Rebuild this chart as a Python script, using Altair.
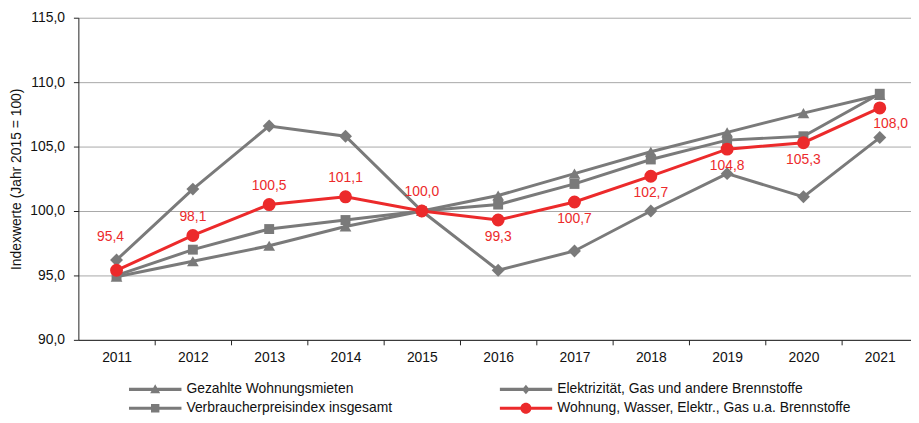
import altair as alt
import pandas as pd

# ---- data ----
years = [2011, 2012, 2013, 2014, 2015, 2016, 2017, 2018, 2019, 2020, 2021]
mieten = [94.9, 96.1, 97.3, 98.8, 100.0, 101.2, 102.9, 104.6, 106.1, 107.6, 109.0]
energie = [96.2, 101.7, 106.6, 105.8, 100.0, 95.4, 96.9, 100.0, 102.9, 101.1, 105.7]
vpi = [95.0, 97.0, 98.6, 99.3, 100.0, 100.5, 102.1, 104.0, 105.5, 105.8, 109.1]
wohnung = [95.4, 98.1, 100.5, 101.1, 100.0, 99.3, 100.7, 102.7, 104.8, 105.3, 108.0]

name_mieten = "Gezahlte Wohnungsmieten"
name_energie = "Elektrizität, Gas und andere Brennstoffe"
name_vpi = "Verbraucherpreisindex insgesamt"
name_wohnung = "Wohnung, Wasser, Elektr., Gas u.a. Brennstoffe"

y_ticks = [90, 95, 100, 105, 110, 115]
x_boundaries = [2011.5, 2012.5, 2013.5, 2014.5, 2015.5, 2016.5, 2017.5, 2018.5, 2019.5, 2020.5]

GRAY = "#7a7a7a"
RED = "#ec2a2b"
FONT = "Liberation Sans"

rows = []
for name, vals in [(name_energie, energie), (name_mieten, mieten), (name_vpi, vpi), (name_wohnung, wohnung)]:
    for yr, v in zip(years, vals):
        rows.append({"Jahr": yr, "Wert": v, "Serie": name})
df = pd.DataFrame(rows)

x_scale = alt.Scale(domain=[2010.5, 2010.5 + 840 / 77], nice=False, zero=False)
y_scale = alt.Scale(domain=[90, 115], nice=False, zero=False)

y_axis = alt.Axis(
    values=y_ticks, grid=True, gridColor="#a8a8a8", gridWidth=1,
    domainColor="#222", tickColor="#222", tickSize=5, labelPadding=9,
    labelExpr="replace(format(datum.value, '.1f'), '.', ',')",
    labelFontSize=14, labelFont=FONT, labelColor="#111",
    title="Indexwerte (Jahr 2015 = 100)", titleFont=FONT, titleFontSize=14,
    titleFontWeight="normal", titleColor="#111", titlePadding=6,
)
x_axis_labels = alt.Axis(
    values=years, format="d", ticks=False, domain=False, grid=False,
    labelFontSize=14, labelFont=FONT, labelColor="#111", labelPadding=11,
    title=None, orient="bottom",
)
x_axis_ticks = alt.Axis(
    values=x_boundaries, labels=False, ticks=True, tickSize=5, tickColor="#222",
    domain=True, domainColor="#222", grid=False, title=None, orient="bottom",
)

base = alt.Chart(df)

layers = []
styles = [
    (name_energie, GRAY, "diamond", 170),
    (name_mieten, GRAY, "triangle-up", 140),
    (name_vpi, GRAY, "square", 100),
    (name_wohnung, RED, "circle", 170),
]
first = True
for name, col, shp, sz in styles:
    sub = base.transform_filter(alt.datum.Serie == name)
    line = sub.mark_line(color=col, strokeWidth=3).encode(
        x=alt.X("Jahr:Q", scale=x_scale, axis=x_axis_labels if first else None),
        y=alt.Y("Wert:Q", scale=y_scale, axis=y_axis),
    )
    pts = sub.mark_point(filled=True, opacity=1, color=col, shape=shp, size=sz).encode(
        x=alt.X("Jahr:Q", scale=x_scale, axis=x_axis_ticks if first else None),
        y=alt.Y("Wert:Q", scale=y_scale, axis=y_axis),
    )
    first = False
    layers += [line, pts]

# value labels of the red series
red = base.transform_filter(alt.datum.Serie == name_wohnung).transform_calculate(
    lab="replace(format(datum.Wert, '.1f'), '.', ',')"
)
label_groups = [
    ([2011], -6, -34),
    ([2012, 2013, 2014, 2015], 0, -19),
    ([2016, 2017, 2018, 2019, 2020], 0, 17),
    ([2021], 11, 16),
]
for yrs, dx, dy in label_groups:
    layers.append(
        red.transform_filter(alt.FieldOneOfPredicate(field="Jahr", oneOf=yrs))
        .mark_text(color=RED, font=FONT, fontSize=14, dx=dx, dy=dy)
        .encode(
            x=alt.X("Jahr:Q", scale=x_scale, axis=None),
            y=alt.Y("Wert:Q", scale=y_scale, axis=y_axis),
            text="lab:N",
        )
    )

# legend (line + marker symbols); entries fill column by column
legend_order = [name_mieten, name_vpi, name_energie, name_wohnung]
legend_colors = [GRAY, GRAY, GRAY, RED]
bar_l = "M-1,-0.06H1V0.06H-1Z"
legend_paths = [
    bar_l + "M-0.19,0.15L0,-0.2L0.19,0.15Z",
    bar_l + "M-0.16,-0.16H0.16V0.16H-0.16Z",
    bar_l + "M0,-0.18L0.15,0L0,0.18L-0.15,0Z",
    bar_l + "M-0.21,0A0.21,0.21 0 1,1 0.21,0A0.21,0.21 0 1,1 -0.21,0Z",
]
leg = alt.Legend(
    title=None, orient="none", legendX=51, legendY=366, columns=2,
    columnPadding=108, rowPadding=1, clipHeight=18, symbolSize=2809,
    labelFont=FONT, labelFontSize=14, labelColor="#111", labelLimit=600,
    labelOffset=5, padding=0, symbolStrokeWidth=0,
)
legend_layer = base.transform_filter("false").mark_point(filled=True, opacity=1).encode(
    x=alt.X("Jahr:Q", scale=x_scale, axis=None),
    y=alt.Y("Wert:Q", scale=y_scale, axis=y_axis),
    color=alt.Color("Serie:N", scale=alt.Scale(domain=legend_order, range=legend_colors), legend=leg),
    shape=alt.Shape("Serie:N", scale=alt.Scale(domain=legend_order, range=legend_paths), legend=leg),
)
layers.append(legend_layer)

chart = (
    alt.layer(*layers)
    .resolve_axis(x="independent")
    .properties(
        width=840, height=325,
        autosize=alt.AutoSizeParams(type="none"),
        padding={"left": 71, "top": 8, "right": 0, "bottom": 74},
        background="white",
    )
    .configure_view(stroke=None)
)

chart.save("out.html", embed_options={"renderer": "svg", "actions": False})
